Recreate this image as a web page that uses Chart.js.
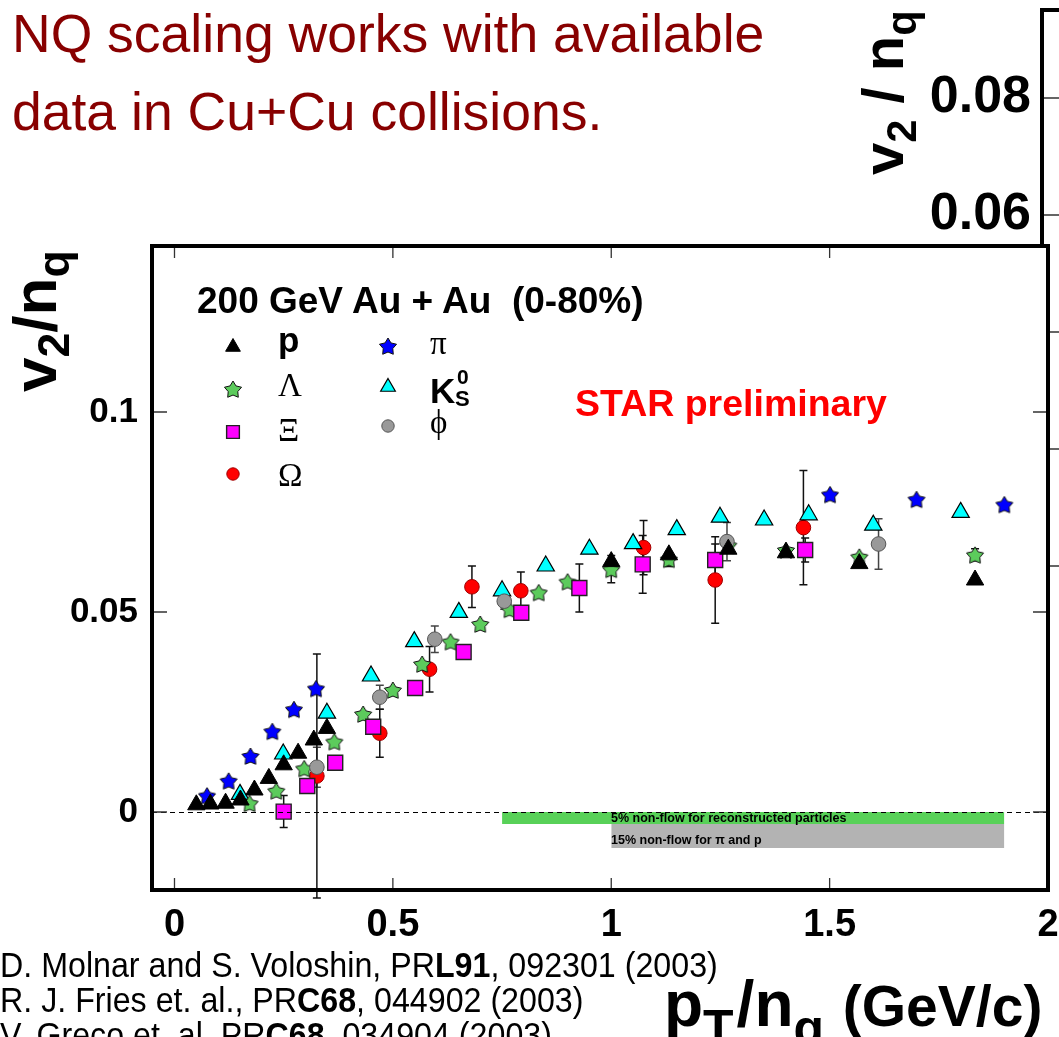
<!DOCTYPE html>
<html>
<head>
<meta charset="utf-8">
<script src="https://cdn.jsdelivr.net/npm/chart.js@4/dist/chart.umd.min.js"></script>
<style>
html,body{margin:0;padding:0;background:#fff;}
body{width:1059px;height:1037px;overflow:hidden;position:relative;font-family:"Liberation Sans",Arial,sans-serif;}
canvas{position:absolute;}
#bg{left:830px;top:0;}
#main{left:0;top:0;}
.t{position:absolute;white-space:nowrap;line-height:1;color:#000;}
.slide{color:#880000;font-size:53.5px;left:12px;}
.ref{font-size:35px;left:0;transform-origin:left top;transform:scaleX(0.92);}
.ref b{font-weight:bold;}
.rot{transform-origin:left top;transform:rotate(-90deg);font-weight:bold;}
.rot sub{font-size:72%;vertical-align:-0.3em;line-height:0;}
.xt sub{font-size:78%;vertical-align:-0.38em;line-height:0;margin-right:3px;}
.greek{font-family:"Liberation Serif","Times New Roman",serif;font-size:33px;}
.bold{font-weight:bold;}
.mk{position:absolute;}
</style>
</head>
<body>
<canvas id="bg" width="300" height="590"></canvas>
<div class="t rot" style="font-size:58px;left:854px;top:175px;">v<sub>2</sub> / n<sub>q</sub></div>
<canvas id="main" width="1100" height="1037"></canvas>

<div class="t slide" style="top:7px;">NQ scaling works with available</div>
<div class="t slide" style="top:85px;">data in Cu+Cu collisions.</div>

<div class="t rot" style="font-size:62px;left:4px;top:392px;">v<sub>2</sub>/n<sub>q</sub></div>
<div class="t xt bold" style="font-size:64px;left:664px;top:972px;">p<sub>T</sub>/n<sub>q</sub><span style="font-size:57px;"> (GeV/c)</span></div>

<div class="t ref" style="top:947px;">D. Molnar and S. Voloshin, PR<b>L91</b>, 092301 (2003)</div>
<div class="t ref" style="top:982px;">R. J. Fries et. al., PR<b>C68</b>, 044902 (2003)</div>
<div class="t ref" style="top:1017px;">V. Greco et. al. PR<b>C68</b>, 034904 (2003)</div>

<div class="t bold" style="font-size:37px;left:197px;top:282px;">200 GeV Au + Au&nbsp; (0-80%)</div>
<div class="t bold" style="font-size:35px;left:278px;top:322px;">p</div>
<div class="t greek" style="left:278px;top:369px;">Λ</div>
<div class="t greek" style="left:278px;top:414px;">Ξ</div>
<div class="t greek" style="left:278px;top:459px;">Ω</div>
<div class="t greek" style="left:430px;top:327px;">π</div>
<div class="t bold" style="font-size:35px;left:430px;top:373px;">K</div>
<div class="t bold" style="font-size:21px;left:457px;top:366px;">0</div>
<div class="t bold" style="font-size:22px;left:455px;top:388px;">S</div>
<div class="t greek" style="left:430px;top:406px;">ϕ</div>

<div class="t bold" style="font-size:37.5px;left:575px;top:385px;color:#ff0000;">STAR preliminary</div>

<div class="t bold" style="font-size:12.5px;left:611px;top:812px;">5% non-flow for reconstructed particles</div>
<div class="t bold" style="font-size:12.5px;left:611px;top:834px;">15% non-flow for π and p</div>

<div id="legend"></div>

<script>
// tick values
const xTicks = [0, 0.5, 1, 1.5, 2];
const yTicks = [0, 0.05, 0.1];
const bgTicks = [0, 0.02, 0.04, 0.06, 0.08];

// p
const protonX  = [0.050, 0.082, 0.117, 0.151, 0.183, 0.216, 0.250, 0.283, 0.319, 0.349, 1.000, 1.132, 1.268, 1.400, 1.568, 1.833];
const protonV2 = [0.0018, 0.0020, 0.0022, 0.0030, 0.0055, 0.0084, 0.0118, 0.0147, 0.0180, 0.0209, 0.0626, 0.0643, 0.0657, 0.0648, 0.0621, 0.0580];

// Lambda
const lambdaX   = [0.172, 0.233, 0.297, 0.366, 0.432, 0.500, 0.567, 0.632, 0.700, 0.767, 0.834, 0.900, 1.000, 1.132, 1.268, 1.400, 1.568, 1.833];
const lambdaV2  = [0.0022, 0.0053, 0.0109, 0.0176, 0.0245, 0.0305, 0.0370, 0.0426, 0.0470, 0.0507, 0.0549, 0.0576, 0.0607, 0.0632, 0.0667, 0.0655, 0.0638, 0.0643];
const lambdaErr = [0, 0, 0, 0, 0, 0, 0, 0, 0, 0, 0, 0, 0.0034, 0.0018, 0, 0, 0, 0.0015];

// Xi
const xiX   = [0.250, 0.304, 0.368, 0.455, 0.551, 0.662, 0.794, 0.927, 1.072, 1.238, 1.444];
const xiV2  = [0.0001, 0.0065, 0.0123, 0.0213, 0.0310, 0.0400, 0.0498, 0.0560, 0.0619, 0.0630, 0.0655];
const xiErr = [0.0040, 0, 0, 0, 0, 0, 0, 0.0060, 0.0072, 0.0040, 0.0030];

// Omega
const omegaX   = [0.326, 0.470, 0.584, 0.681, 0.793, 1.074, 1.238, 1.440];
const omegaV2  = [0.0090, 0.0197, 0.0357, 0.0563, 0.0553, 0.0661, 0.0580, 0.0711];
const omegaErr = [0.0305, 0.0060, 0.0057, 0.0052, 0.0047, 0.0068, 0.0108, 0.0143];

// pi
const pionX  = [0.0745, 0.124, 0.174, 0.224, 0.2735, 0.324, 1.501, 1.699, 1.900];
const pionV2 = [0.0041, 0.0078, 0.0140, 0.0202, 0.0257, 0.0309, 0.0794, 0.0782, 0.0769];

// K0s
const kaonX  = [0.150, 0.249, 0.349, 0.450, 0.549, 0.651, 0.750, 0.850, 0.950, 1.050, 1.150, 1.249, 1.350, 1.452, 1.600, 1.800];
const kaonV2 = [0.0044, 0.0145, 0.0247, 0.0340, 0.0426, 0.0499, 0.0553, 0.0615, 0.0657, 0.0671, 0.0706, 0.0737, 0.0730, 0.0743, 0.0717, 0.0749];

// phi
const phiX   = [0.326, 0.470, 0.596, 0.755, 1.265, 1.612];
const phiV2  = [0.0112, 0.0287, 0.0432, 0.0527, 0.0676, 0.0670];
const phiErr = [0.0050, 0.0030, 0.0033, 0.0020, 0.0048, 0.0063];

// non-flow bands
const greenBandX = [0.75, 1.9];
const greenBandY = [0, -0.003];
const grayBandX  = [1.0, 1.9];
const grayBandY  = [-0.003, -0.009];

const family = '"Liberation Sans", Arial, sans-serif';
Chart.defaults.font.family = family;
Chart.defaults.color = '#000';

function pts(xs, ys){ return xs.map((x,i)=>({x:x, y:ys[i]})); }
function flat(xs, y){ return xs.map(x=>({x:x, y:y})); }

function starMarker(fill, R){
  const c = document.createElement('canvas');
  const s = Math.ceil(2*R + 4);
  c.width = c.height = s;
  const g = c.getContext('2d');
  g.beginPath();
  for(let k=0;k<10;k++){
    const r = k%2 ? R*0.56 : R;
    const a = -Math.PI/2 + k*Math.PI/5;
    g.lineTo(s/2 + r*Math.cos(a), s/2 + 1 + r*Math.sin(a));
  }
  g.closePath();
  g.fillStyle = fill; g.fill();
  g.strokeStyle = '#111'; g.lineWidth = 1; g.stroke();
  return c;
}

const styles = {
  p:     {pointStyle:'triangle', radius:10, bg:'#000000', border:'#000000', bw:1},
  lambda:{pointStyle:starMarker('#5ccb5c', 9), radius:9, bg:'#5ccb5c', border:'#111', bw:0},
  xi:    {pointStyle:'rect', radius:10.6, bg:'#ff00ff', border:'#222', bw:1.4},
  omega: {pointStyle:'circle', radius:7.3, bg:'#ff0000', border:'#a00000', bw:1},
  pi:    {pointStyle:starMarker('#0000ff', 9), radius:9, bg:'#0000ff', border:'#111', bw:0},
  kaon:  {pointStyle:'triangle', radius:10, bg:'#00ffff', border:'#000', bw:1.2},
  phi:   {pointStyle:'circle', radius:7.3, bg:'#999999', border:'#555', bw:1}
};

function ds(key, xs, ys, errs, order, errColor){
  const s = styles[key];
  return {
    data: pts(xs, ys), errors: errs, errColor: errColor || '#111', order: order,
    pointStyle: s.pointStyle, pointRadius: s.radius, pointHoverRadius: s.radius,
    backgroundColor: s.bg, borderColor: s.border, borderWidth: s.bw, showLine:false
  };
}

const datasets = [
  ds('p', protonX, protonV2, null, 0),
  ds('xi', xiX, xiV2, xiErr, 1),
  ds('phi', phiX, phiV2, phiErr, 2, '#444'),
  ds('lambda', lambdaX, lambdaV2, lambdaErr, 3),
  ds('pi', pionX, pionV2, null, 4),
  ds('kaon', kaonX, kaonV2, null, 5),
  ds('omega', omegaX, omegaV2, omegaErr, 6),
  {type:'line', data:flat(greenBandX, greenBandY[0]), fill:'+1', backgroundColor:'#58d158', borderWidth:0, pointRadius:0, order:10},
  {type:'line', data:flat(greenBandX, greenBandY[1]), fill:false, borderWidth:0, pointRadius:0, order:10},
  {type:'line', data:flat(grayBandX, grayBandY[0]), fill:'+1', backgroundColor:'#b3b3b3', borderWidth:0, pointRadius:0, order:11},
  {type:'line', data:flat(grayBandX, grayBandY[1]), fill:false, borderWidth:0, pointRadius:0, order:11}
];

const framePlugin = {
  id:'frame',
  beforeDraw(chart){
    const a = chart.chartArea, c = chart.ctx;
    c.save(); c.fillStyle = '#fff';
    c.fillRect(a.left, a.top, a.right-a.left, a.bottom-a.top);
    c.restore();
  },
  beforeDatasetsDraw(chart){
    const c = chart.ctx, xs = chart.scales.x, ys = chart.scales.y;
    c.save();
    c.lineWidth = 1.5;
    chart.data.datasets.forEach(d=>{
      if(!d.errors) return;
      c.strokeStyle = d.errColor;
      d.data.forEach((p,i)=>{
        const e = d.errors[i];
        if(!e) return;
        const px = xs.getPixelForValue(p.x);
        const y1 = ys.getPixelForValue(p.y + e), y2 = ys.getPixelForValue(p.y - e);
        c.beginPath();
        c.moveTo(px, y1); c.lineTo(px, y2);
        c.moveTo(px-4, y1); c.lineTo(px+4, y1);
        c.moveTo(px-4, y2); c.lineTo(px+4, y2);
        c.stroke();
      });
    });
    c.restore();
  },
  afterDatasetsDraw(chart){
    const a = chart.chartArea, c = chart.ctx, ys = chart.scales.y;
    const y0 = Math.round(ys.getPixelForValue(0)) + 0.5;
    c.save();
    c.strokeStyle = '#000'; c.lineWidth = 1; c.setLineDash([5,4]);
    c.beginPath(); c.moveTo(a.left, y0); c.lineTo(a.right, y0); c.stroke();
    c.restore();
  },
  afterDraw(chart){
    const a = chart.chartArea, c = chart.ctx, xs = chart.scales.x, ys = chart.scales.y;
    c.save();
    c.strokeStyle = '#333'; c.lineWidth = 1.3;
    c.beginPath();
    yTicks.forEach(v=>{
      const y = ys.getPixelForValue(v);
      c.moveTo(a.left, y); c.lineTo(a.left+15, y);
      c.moveTo(a.right, y); c.lineTo(a.right-15, y);
    });
    xTicks.forEach(v=>{
      if(v >= 2) return;
      const x = xs.getPixelForValue(v);
      c.moveTo(x, a.bottom); c.lineTo(x, a.bottom-12);
      c.moveTo(x, a.top); c.lineTo(x, a.top+12);
    });
    c.stroke();
    c.strokeStyle = '#000'; c.lineWidth = 4;
    c.strokeRect(a.left, a.top, a.right-a.left, a.bottom-a.top);
    c.restore();
  }
};

new Chart(document.getElementById('main'), {
  type:'scatter',
  data:{datasets:datasets},
  options:{
    responsive:false, animation:false, devicePixelRatio:1,
    layout:{padding:{left:0, top:246, right:52, bottom:0}},
    plugins:{legend:{display:false}, tooltip:{enabled:false}},
    scales:{
      x:{
        type:'linear', min:-0.0515, max:2.0,
        afterBuildTicks: s=>{ s.ticks = xTicks.map(v=>({value:v})); },
        afterFit: s=>{ s.height = 147; s.paddingLeft = 0; s.paddingRight = 0; },
        grid:{display:false}, border:{display:false},
        ticks:{font:{size:38, weight:'bold'}, color:'#000', padding:5, maxRotation:0, autoSkip:false, callback:v=>String(v)}
      },
      y:{
        type:'linear', min:-0.0195, max:0.1415,
        afterBuildTicks: s=>{ s.ticks = yTicks.map(v=>({value:v})); },
        afterFit: s=>{ s.width = 152; s.paddingTop = 0; s.paddingBottom = 0; },
        grid:{display:false}, border:{display:false},
        ticks:{font:{size:35, weight:'bold'}, color:'#000', padding:6, autoSkip:false, callback:v=>String(v)}
      }
    }
  },
  plugins:[framePlugin]
});

// partially hidden chart behind
const bgFrame = {
  id:'bgFrame',
  afterDraw(chart){
    const a = chart.chartArea, c = chart.ctx, ys = chart.scales.y;
    c.save();
    c.strokeStyle = '#333'; c.lineWidth = 1.3;
    c.beginPath();
    bgTicks.forEach(v=>{
      const y = ys.getPixelForValue(v);
      c.moveTo(a.left, y); c.lineTo(a.left+22, y);
    });
    c.stroke();
    c.strokeStyle = '#000'; c.lineWidth = 4;
    c.beginPath();
    c.moveTo(a.left, a.bottom); c.lineTo(a.left, a.top); c.lineTo(a.right, a.top);
    c.stroke();
    c.restore();
  }
};

new Chart(document.getElementById('bg'), {
  type:'scatter',
  data:{datasets:[]},
  options:{
    responsive:false, animation:false, devicePixelRatio:1,
    layout:{padding:{left:0, top:10, right:0, bottom:0}},
    plugins:{legend:{display:false}, tooltip:{enabled:false}},
    scales:{
      x:{display:false, min:0, max:1},
      y:{
        type:'linear', min:-0.0041, max:0.09504,
        afterBuildTicks: s=>{ s.ticks = bgTicks.map(v=>({value:v})); },
        afterFit: s=>{ s.width = 212; s.paddingTop = 0; s.paddingBottom = 0; },
        grid:{display:false}, border:{display:false},
        ticks:{font:{size:52, weight:'bold'}, color:'#000', padding:3, autoSkip:false, callback:v=>v.toFixed(2)}
      }
    }
  },
  plugins:[bgFrame]
});

// legend markers
const legendMarks = [
  ['p', 233, 347], ['lambda', 233, 389], ['xi', 233, 432], ['omega', 233, 474],
  ['pi', 388, 346], ['kaon', 388, 387], ['phi', 388, 426]
];
const legendBox = document.getElementById('legend');
legendMarks.forEach(([key, cx, cy])=>{
  const s = styles[key];
  const cv = document.createElement('canvas');
  cv.width = cv.height = 28;
  cv.className = 'mk';
  cv.style.left = (cx-14)+'px'; cv.style.top = (cy-14)+'px';
  const g = cv.getContext('2d');
  g.fillStyle = s.bg; g.strokeStyle = s.border;
  g.lineWidth = s.bw;
  Chart.helpers.drawPoint(g, {pointStyle:s.pointStyle, radius:s.radius*0.85, rotation:0, borderWidth:s.bw}, 14, 14);
  legendBox.appendChild(cv);
});
</script>
</body>
</html>
